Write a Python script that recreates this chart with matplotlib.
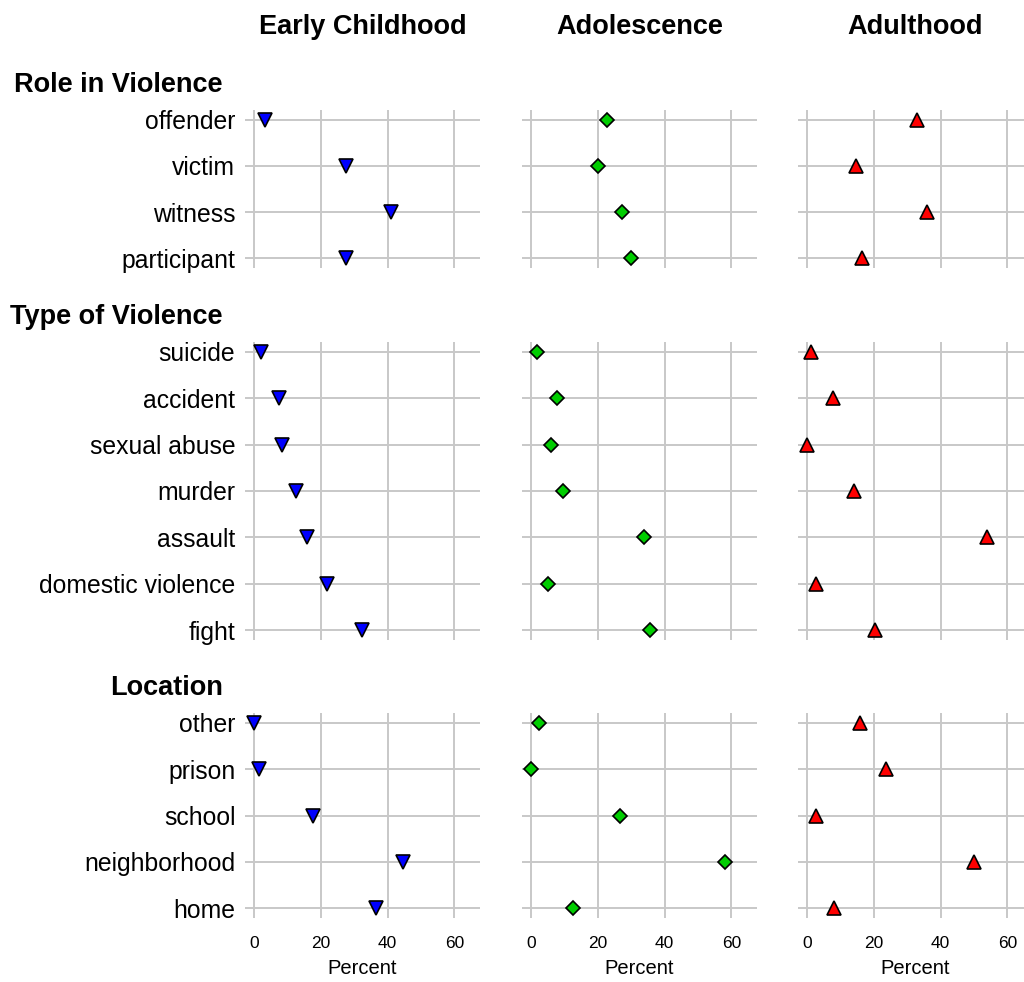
import numpy as np
import matplotlib
matplotlib.use('Agg')
from matplotlib import pyplot as plt

plt.rcParams['font.family'] = ['Liberation Sans', 'DejaVu Sans']

# life stages (columns)
stages = ['Early Childhood', 'Adolescence', 'Adulthood']

# row groups and their categories (top to bottom)
groups = ['Role in Violence', 'Type of Violence', 'Location']
role_labels = ['offender', 'victim', 'witness', 'participant']
type_labels = ['suicide', 'accident', 'sexual abuse', 'murder', 'assault',
               'domestic violence', 'fight']
location_labels = ['other', 'prison', 'school', 'neighborhood', 'home']

# percent values, per stage, in the row order above
role_early = [3.3, 27.7, 40.9, 27.7]
role_adol = [22.7, 20.0, 27.3, 30.0]
role_adult = [32.8, 14.8, 35.8, 16.5]

type_early = [2.1, 7.5, 8.4, 12.6, 15.8, 22.0, 32.4]
type_adol = [1.7, 7.8, 6.0, 9.5, 33.8, 5.2, 35.7]
type_adult = [1.3, 7.8, 0.0, 14.1, 53.8, 2.6, 20.5]

location_early = [0.0, 1.6, 17.8, 44.5, 36.5]
location_adol = [2.4, 0.0, 26.7, 58.2, 12.7]
location_adult = [15.8, 23.7, 2.6, 50.0, 8.0]

data = [
    [role_early, role_adol, role_adult],
    [type_early, type_adol, type_adult],
    [location_early, location_adol, location_adult],
]
labels = [role_labels, type_labels, location_labels]

markers = ['v', 'D', '^']
msizes = [9.5, 6.8, 9.5]
colors = ['#0000FF', '#00CD00', '#FF0000']

W, H = 1024, 982
fig = plt.figure(figsize=(W / 100, H / 100), dpi=100)

# panel boxes in pixels
col_x = [(245, 480), (522, 757), (798, 1033)]
row_y = [(110, 268), (342, 640), (713, 918)]
pad = 0.21

def px_axes(x0, x1, y0, y1):
    return fig.add_axes([x0 / W, 1 - y1 / H, (x1 - x0) / W, (y1 - y0) / H])

for r in range(3):
    n = len(labels[r])
    yy = np.arange(1, n + 1)
    for c in range(3):
        ax = px_axes(col_x[c][0], col_x[c][1], row_y[r][0], row_y[r][1])
        ax.set_xlim(-2.7, 67.7)
        ax.set_ylim(n + pad, 1 - pad)
        ax.set_xticks([0, 20, 40, 60])
        ax.set_yticks(yy)
        ax.grid(True, color='#c8c8c8', linewidth=1.4)
        ax.set_axisbelow(True)
        for s in ax.spines.values():
            s.set_visible(False)
        ax.tick_params(length=0)
        ax.plot(data[r][c], yy, linestyle='none', marker=markers[c],
                markersize=msizes[c], markerfacecolor=colors[c],
                markeredgecolor='black', markeredgewidth=1.2, zorder=3,
                clip_on=False)
        if c == 0:
            ax.set_yticklabels(labels[r], fontsize=17.8)
            ax.tick_params(axis='y', pad=7)
        else:
            ax.set_yticklabels([])
        if r == 2:
            ax.set_xticklabels(['0', '20', '40', '60'], fontsize=12.5)
            ax.tick_params(axis='x', pad=13)
            ax.set_xlabel('Percent', fontsize=14.5, labelpad=6)
        else:
            ax.set_xticklabels([])
        if r == 0:
            ax.set_title(stages[c], fontsize=19.5, fontweight='bold', pad=0,
                         y=1 + 83 / (row_y[0][1] - row_y[0][0]), va='center')
    fig.text(223 / W, 1 - (row_y[r][0] - 25) / H, groups[r], fontsize=19.5,
             fontweight='bold', ha='right', va='center')

fig.savefig('out.png', dpi=100)
